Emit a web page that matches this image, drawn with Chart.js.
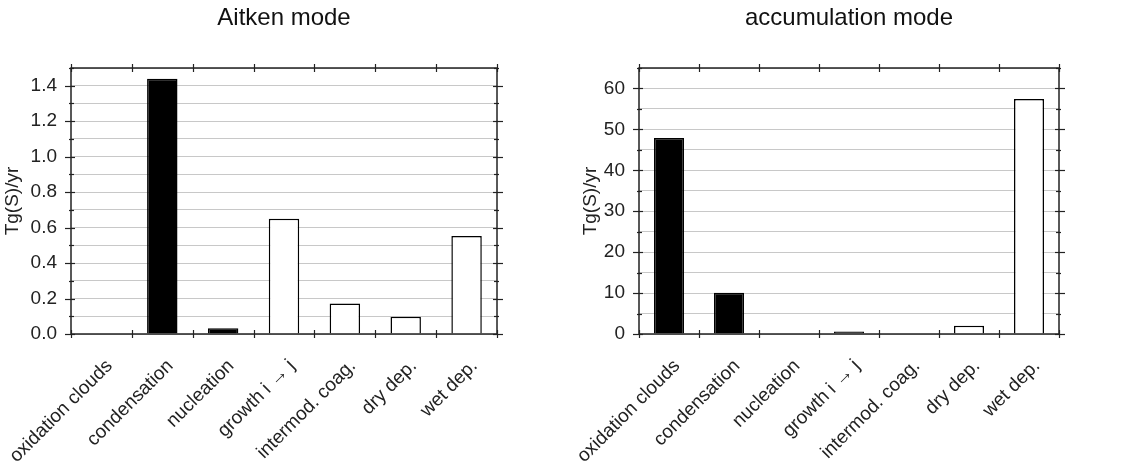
<!DOCTYPE html>
<html>
<head>
<meta charset="utf-8">
<script src="https://cdn.jsdelivr.net/npm/chart.js@4"></script>
<style>
  body { margin: 0; background: #fff; }
  #wrap { position: relative; width: 1127px; height: 471px; }
  canvas { position: absolute; top: 0; }
</style>
</head>
<body>
<div id="wrap">
  <canvas id="aitken" width="563" height="471" style="left:0"></canvas>
  <canvas id="accum" width="564" height="471" style="left:563px"></canvas>
</div>
<script>
const categories = ['oxidation clouds', 'condensation', 'nucleation', 'growth i \u2192 j', 'intermod. coag.', 'dry dep.', 'wet dep.'];

const aitkenValues = [0.003, 1.44, 0.033, 0.65, 0.172, 0.097, 0.553];
const aitkenFill = ['#000', '#000', '#000', '#fff', '#fff', '#fff', '#fff'];
const aitkenYLabels = ['0.0', '0.2', '0.4', '0.6', '0.8', '1.0', '1.2', '1.4'];

const accumValues = [47.9, 10.1, 0.1, 0.6, 0.1, 2.0, 57.4];
const accumFill = ['#000', '#000', '#000', '#000', '#000', '#fff', '#fff'];
const accumYLabels = ['0', '10', '20', '30', '40', '50', '60'];

Chart.defaults.font.family = '"Liberation Sans", Arial, sans-serif';
Chart.defaults.color = '#222';

// frame, in/out tick marks and the panel title
const framePlugin = {
  id: 'frame',
  afterDatasetsDraw(chart, args, opts) {
    const { ctx, chartArea: a, scales: { x, y } } = chart;
    const line = (x1, y1, x2, y2) => {
      ctx.beginPath(); ctx.moveTo(x1, y1); ctx.lineTo(x2, y2); ctx.stroke();
    };
    ctx.save();
    ctx.strokeStyle = '#222';
    ctx.lineWidth = 1.5;
    ctx.strokeRect(a.left, a.top, a.right - a.left, a.bottom - a.top);
    ctx.lineWidth = 1.2;
    y.ticks.forEach(t => {
      const py = Math.round(y.getPixelForValue(t.value)) + 0.5;
      const major = t.label !== '';
      const out = major ? 6 : 2, inn = major ? 4 : 3;
      line(a.left - out, py, a.left + inn, py);
      line(a.right - inn, py, a.right + out, py);
    });
    for (let i = 0; i <= categories.length; i++) {
      const px = Math.round(x.getPixelForValue(i - 0.5)) + 0.5;
      line(px, a.bottom - 4, px, a.bottom + 4);
      line(px, a.top - 4, px, a.top + 4);
    }
    ctx.font = '24px "Liberation Sans", Arial, sans-serif';
    ctx.fillStyle = '#111';
    ctx.textAlign = 'center';
    ctx.textBaseline = 'middle';
    ctx.fillText(opts.text, (a.left + a.right) / 2, 18);
    ctx.restore();
  }
};

function makeChart(id, title, values, fills, max, step, yLabels, fmt, yWidth, titlePad, padRight) {
  return new Chart(document.getElementById(id), {
    type: 'bar',
    data: {
      labels: categories,
      datasets: [{
        data: values,
        backgroundColor: fills,
        borderColor: '#000',
        borderWidth: 1.5,
        barPercentage: 0.5,
        categoryPercentage: 1.0
      }]
    },
    options: {
      responsive: false,
      animation: false,
      layout: { padding: { top: 68, right: padRight, left: 0, bottom: 0 } },
      plugins: {
        legend: { display: false },
        tooltip: { enabled: false },
        frame: { text: title }
      },
      scales: {
        x: {
          offset: true,
          grid: { display: false },
          border: { display: false },
          ticks: {
            font: { size: 19 },
            minRotation: 45,
            maxRotation: 45,
            autoSkip: false,
            padding: 13,
            labelOffset: 8
          },
          afterFit: s => { s.height = 137; s.paddingLeft = 0; s.paddingRight = 0; }
        },
        y: {
          min: 0,
          max: max,
          border: { display: false },
          grid: { color: '#c8c8c8', lineWidth: 1, drawTicks: false },
          ticks: {
            stepSize: step,
            autoSkip: false,
            padding: 14,
            font: { size: 19 },
            callback: v => {
              const s = fmt(v);
              return yLabels.includes(s) ? s : '';
            }
          },
          title: {
            display: true,
            text: 'Tg(S)/yr',
            font: { size: 19 },
            padding: { top: titlePad, bottom: 0 }
          },
          afterFit: s => { s.width = yWidth; s.paddingTop = 0; s.paddingBottom = 0; }
        }
      }
    },
    plugins: [framePlugin]
  });
}

makeChart('aitken', 'Aitken mode', aitkenValues, aitkenFill, 1.5, 0.1, aitkenYLabels,
  v => v.toFixed(1), 71, 1, 66);
makeChart('accum', 'accumulation mode', accumValues, accumFill, 65, 5, accumYLabels,
  v => String(Math.round(v)), 76, 16, 68);
</script>
</body>
</html>
